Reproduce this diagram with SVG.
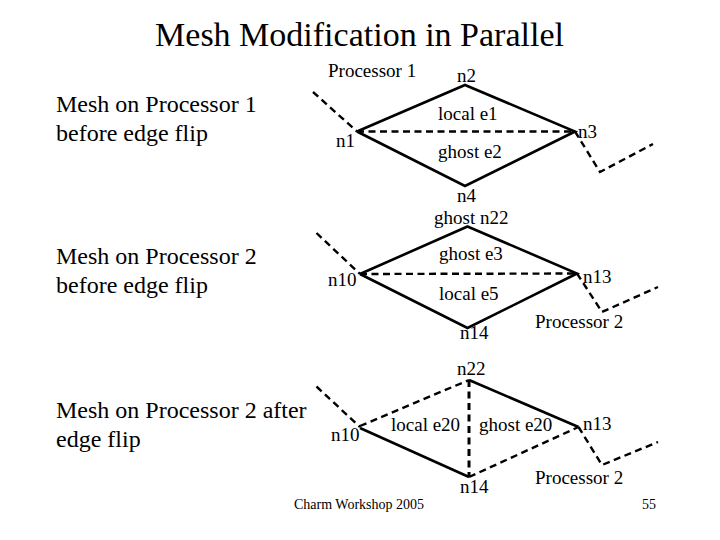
<svg xmlns="http://www.w3.org/2000/svg" width="720" height="540" viewBox="0 0 720 540">
<style>
text{font-family:"Liberation Serif","Times New Roman",serif;fill:#000}
.title{font-size:34px}
.body{font-size:24px}
.lbl{font-size:19px}
.foot{font-size:14px}
.solid{stroke:#000;stroke-width:2.6;fill:none;stroke-linejoin:miter}
.dash{stroke:#000;stroke-width:2.4;fill:none;stroke-dasharray:7 4.5}
</style>
<rect width="720" height="540" fill="#fff"/>
<g id="title"><text class="title" x="359.5" y="46" text-anchor="middle">Mesh Modification in Parallel</text></g>
<g id="captions">
<text class="body" x="56" y="112">Mesh on Processor 1</text>
<text class="body" x="56" y="141">before edge flip</text>
<text class="body" x="56" y="264">Mesh on Processor 2</text>
<text class="body" x="56" y="293">before edge flip</text>
<text class="body" x="56" y="418">Mesh on Processor 2 after</text>
<text class="body" x="56" y="447">edge flip</text>
</g>
<g id="connectors">
<!-- mesh 1 -->
<polyline class="solid" points="357,131.5 465,85 575,131.5 465,186 357,131.5"/>
<line class="dash" x1="357" y1="131.5" x2="575" y2="131.5"/>
<line class="dash" x1="313" y1="92" x2="357" y2="131.5"/>
<polyline class="dash" points="575,131.5 600,172 653,144"/>
<!-- mesh 2 -->
<polyline class="solid" points="360,274 467.5,226.5 577,273.5 467.5,328 360,274"/>
<line class="dash" x1="360" y1="274" x2="577" y2="273.5"/>
<line class="dash" x1="316.5" y1="233" x2="360" y2="274"/>
<polyline class="dash" points="577,273.5 602,312 658,287"/>
<!-- mesh 3 -->
<line class="solid" x1="469" y1="380" x2="578.5" y2="427"/>
<line class="solid" x1="360" y1="428" x2="469" y2="477"/>
<line class="dash" x1="360" y1="426" x2="469" y2="380"/>
<line class="dash" x1="469" y1="380" x2="469" y2="477" style="stroke-width:3"/>
<line class="dash" x1="469" y1="477" x2="578.5" y2="427"/>
<line class="dash" x1="316.5" y1="386.5" x2="360" y2="427"/>
<polyline class="dash" points="578.5,427 602,465 658,442"/>
</g>
<g id="node-processor1"><text class="lbl" x="328" y="77">Processor 1</text></g>
<g id="node-n2"><text class="lbl" x="457" y="82">n2</text></g>
<g id="node-e1"><text class="lbl" x="438" y="120">local e1</text></g>
<g id="node-n3"><text class="lbl" x="578" y="138">n3</text></g>
<g id="node-n1"><text class="lbl" x="336" y="147">n1</text></g>
<g id="node-e2"><text class="lbl" x="438" y="158">ghost e2</text></g>
<g id="node-n4"><text class="lbl" x="457" y="202">n4</text></g>
<g id="node-ghost-n22"><text class="lbl" x="434" y="224">ghost n22</text></g>
<g id="node-e3"><text class="lbl" x="439" y="260">ghost e3</text></g>
<g id="node-n10a"><text class="lbl" x="328" y="286">n10</text></g>
<g id="node-n13a"><text class="lbl" x="583" y="283">n13</text></g>
<g id="node-e5"><text class="lbl" x="439" y="300">local e5</text></g>
<g id="node-processor2a"><text class="lbl" x="535" y="328">Processor 2</text></g>
<g id="node-n14a"><text class="lbl" x="460" y="339">n14</text></g>
<g id="node-n22"><text class="lbl" x="457" y="375">n22</text></g>
<g id="node-e20-local"><text class="lbl" x="391" y="431">local e20</text></g>
<g id="node-e20-ghost"><text class="lbl" x="479" y="431">ghost e20</text></g>
<g id="node-n13b"><text class="lbl" x="583" y="430">n13</text></g>
<g id="node-n10b"><text class="lbl" x="331" y="441">n10</text></g>
<g id="node-processor2b"><text class="lbl" x="535" y="484">Processor 2</text></g>
<g id="node-n14b"><text class="lbl" x="460" y="493">n14</text></g>
<g id="footer">
<text class="foot" x="294" y="509">Charm Workshop 2005</text>
<text class="foot" x="642" y="509">55</text>
</g>
</svg>
